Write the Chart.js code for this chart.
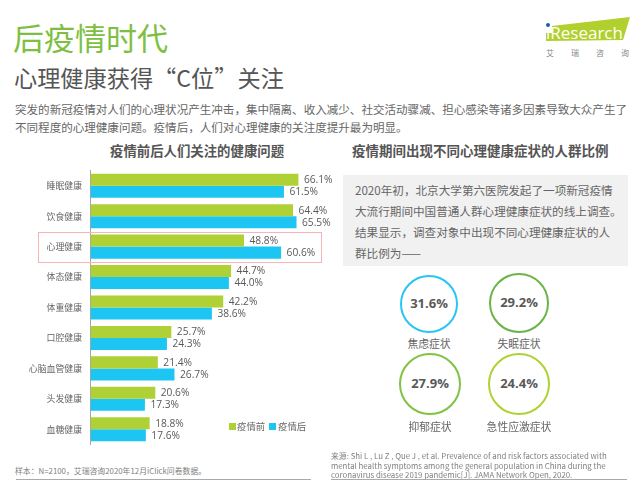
<!DOCTYPE html>
<html><head><meta charset="utf-8">
<script src="https://cdn.jsdelivr.net/npm/chart.js@4"></script>
<style>
html,body{margin:0;padding:0;background:#fff;overflow:hidden}
#page{position:relative;width:640px;height:483px;font-family:"Open Sans","Noto Sans CJK SC",sans-serif;color:#595959}
#page div,#page span{position:absolute;white-space:nowrap}
#c{position:absolute;left:0;top:160px}
.cjk{font-family:"Noto Sans CJK SC",sans-serif}
.circle{box-sizing:border-box;border-radius:50%;background:#fff;text-align:center;font-weight:700;font-size:13px;color:#595959}
.clabel{font-size:10.8px;transform:translateX(-50%);color:#666}
</style></head><body>
<div id="page">
  <div class="cjk" style="left:13px;top:16px;font-size:31px;line-height:42px;color:#7ebf41">后疫情时代</div>
  <div class="cjk" style="left:14px;top:60px;font-size:23.2px;line-height:34px;color:#555">心理健康获得“C位”关注</div>
  <div class="cjk" style="left:15px;top:100px;font-size:11.55px;line-height:18px;color:#666">突发的新冠疫情对人们的心理状况产生冲击，集中隔离、收入减少、社交活动骤减、担心感染等诸多因素导致大众产生了</div>
  <div class="cjk" style="left:15px;top:117.5px;font-size:11.55px;line-height:18px;color:#666">不同程度的心理健康问题。疫情后，人们对心理健康的关注度提升最为明显。</div>
  <div class="cjk" style="left:110px;top:141px;font-size:13.4px;line-height:18px;font-weight:700;color:#555">疫情前后人们关注的健康问题</div>
  <div class="cjk" style="left:352px;top:141px;font-size:13.5px;line-height:18px;font-weight:700;color:#555">疫情期间出现不同心理健康症状的人群比例</div>

  <canvas id="c" width="350" height="300" style="width:350px;height:300px"></canvas>
  <div style="left:38px;top:232px;width:282px;height:29px;border:1px solid #f7b5bb"></div>

  <div style="left:229px;top:423px;width:7px;height:7px;background:#afd135"></div>
  <div class="cjk" style="left:237px;top:418px;font-size:9.4px;line-height:17px;color:#666" id="leg0"></div>
  <div style="left:269px;top:423px;width:7px;height:7px;background:#1dc6f2"></div>
  <div class="cjk" style="left:278px;top:418px;font-size:9.4px;line-height:17px;color:#666" id="leg1"></div>

  <div class="cjk" style="left:15px;top:465px;font-size:7.85px;line-height:12px;color:#808080">样本：N=2100，艾瑞咨询2020年12月iClick问卷数据。</div>
  <div style="left:16px;top:479px;width:295px;height:1px;background:#aaa"></div>

  <div style="left:343px;top:175px;width:285px;height:91px;background:#f1f1f1"></div>
  <div class="cjk" style="left:355px;top:180px;font-size:11.6px;line-height:21.1px;color:#666;white-space:pre">2020年初，北京大学第六医院发起了一项新冠疫情
大流行期间中国普通人群心理健康症状的线上调查。
结果显示，调查对象中出现不同心理健康症状的人
群比例为——</div>
  <div id="circles"></div>

  <div style="left:331px;top:451px;font-size:7.85px;line-height:9.5px;color:#808080;white-space:pre" class="cjk">来源: Shi L , Lu Z , Que J , et al. Prevalence of and risk factors associated with
mental health symptoms among the general population in China during the
coronavirus disease 2019 pandemic[J]. JAMA Network Open, 2020.</div>
  <div style="left:331px;top:479px;width:296px;height:1px;background:#aaa"></div>

  <svg style="position:absolute;left:540px;top:10px" width="100" height="40" viewBox="0 0 100 40"><polygon points="12,16 90,7 83,30 6,31 6,23 12,23" fill="#b1cf2d"/></svg>
  <div style="left:546px;top:23px;width:4px;height:4px;background:#1c5fa8;border-radius:50%"></div>
  <div style="left:546px;top:22px;font-size:17px;line-height:22px;color:#fff">iResearch</div>
  <div class="cjk" style="left:546px;top:47px;font-size:8px;line-height:12px;color:#888;letter-spacing:17px">艾瑞咨询</div>
</div>
<script>
const categories = ["睡眠健康","饮食健康","心理健康","体态健康","体重健康","口腔健康","心脑血管健康","头发健康","血糖健康"];
const beforeValues = [66.1,64.4,48.8,44.7,42.2,25.7,21.4,20.6,18.8];
const afterValues  = [61.5,65.5,60.6,44.0,38.6,24.3,26.7,17.3,17.6];
const seriesNames = ["疫情前","疫情后"];
const symptomNames = ["焦虑症状","失眠症状","抑郁症状","急性应激症状"];
const symptomValues = [31.6,29.2,27.9,24.4];

document.getElementById('leg0').textContent = seriesNames[0];
document.getElementById('leg1').textContent = seriesNames[1];

const circleLayout = [
 {cx:429,cy:304,r:29,c:"#29c5f3",ly:334},
 {cx:519,cy:303,r:30,c:"#6bb446",ly:334},
 {cx:430,cy:384,r:31,c:"#80c241",ly:417},
 {cx:519,cy:384,r:31,c:"#afd135",ly:417}];
const host = document.getElementById('circles');
circleLayout.forEach((o,i)=>{
  const d=document.createElement('div');d.className='circle';
  d.style.cssText=`left:${o.cx-o.r}px;top:${o.cy-o.r}px;width:${2*o.r}px;height:${2*o.r}px;border:2px solid ${o.c};line-height:${2*o.r-6}px`;
  d.textContent=symptomValues[i].toFixed(1)+'%';host.appendChild(d);
  const l=document.createElement('div');l.className='clabel cjk';
  l.style.cssText=`left:${o.cx}px;top:${o.ly}px;line-height:18px`;
  l.textContent=symptomNames[i];host.appendChild(l);
});

const valueLabels = {
  id:'valueLabels',
  afterDatasetsDraw(chart){
    const ctx=chart.ctx;ctx.save();
    ctx.font='10.2px "Open Sans"';ctx.fillStyle='#595959';ctx.textBaseline='middle';ctx.textAlign='left';
    chart.data.datasets.forEach((ds,i)=>{
      chart.getDatasetMeta(i).data.forEach((b,j)=>{
        ctx.fillText(ds.data[j].toFixed(1)+'%',b.x+5.5,b.y+0.5);
      });
    });
    ctx.restore();
  }
};
new Chart(document.getElementById('c'),{
  type:'bar',
  data:{labels:categories,datasets:[
    {label:seriesNames[0],data:beforeValues,backgroundColor:'#afd135',barPercentage:1,categoryPercentage:0.79},
    {label:seriesNames[1],data:afterValues,backgroundColor:'#1dc6f2',barPercentage:1,categoryPercentage:0.79}
  ]},
  options:{
    indexAxis:'y',responsive:false,animation:false,
    layout:{padding:{left:0,right:0,top:10.5,bottom:15.5}},
    plugins:{legend:{display:false},tooltip:{enabled:false},title:{display:false}},
    scales:{
      x:{display:false,min:0,max:82.5},
      y:{
        afterFit(s){s.width=90.5;s.paddingTop=0;s.paddingBottom=0},
        grid:{display:false,drawTicks:false},
        border:{display:true,color:'#a6a6a6',width:1},
        ticks:{color:'#666',padding:8.5,autoSkip:false,font:{size:8.9,family:'"Noto Sans CJK SC"'}}
      }
    }
  },
  plugins:[valueLabels]
});
</script>
</body></html>
